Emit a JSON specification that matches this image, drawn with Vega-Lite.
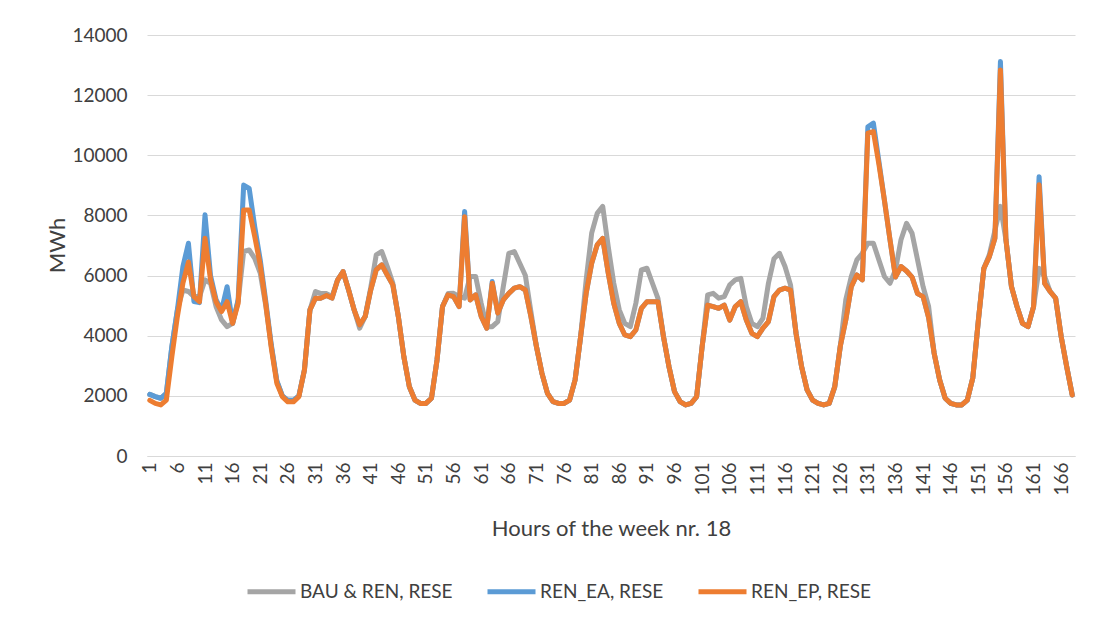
{
  "$schema": "https://vega.github.io/schema/vega-lite/v6.json",
  "width": 928,
  "height": 421,
  "autosize": "none",
  "padding": {"left": 147, "top": 35, "right": 18, "bottom": 163},
  "background": "white",
  "config": {"font": "Lato", "view": {"stroke": null}},
  "data": {"values": [
    {"h":1,"BAU & REN, RESE":2050,"REN_EA, RESE":2050,"REN_EP, RESE":1850},
    {"h":2,"BAU & REN, RESE":1975,"REN_EA, RESE":1975,"REN_EP, RESE":1750},
    {"h":3,"BAU & REN, RESE":1920,"REN_EA, RESE":1920,"REN_EP, RESE":1700},
    {"h":4,"BAU & REN, RESE":2085,"REN_EA, RESE":2085,"REN_EP, RESE":1860},
    {"h":5,"BAU & REN, RESE":3640,"REN_EA, RESE":3640,"REN_EP, RESE":3300},
    {"h":6,"BAU & REN, RESE":4860,"REN_EA, RESE":4860,"REN_EP, RESE":4640},
    {"h":7,"BAU & REN, RESE":5520,"REN_EA, RESE":6300,"REN_EP, RESE":5745},
    {"h":8,"BAU & REN, RESE":5470,"REN_EA, RESE":7075,"REN_EP, RESE":6450},
    {"h":9,"BAU & REN, RESE":5300,"REN_EA, RESE":5135,"REN_EP, RESE":5300},
    {"h":10,"BAU & REN, RESE":5300,"REN_EA, RESE":5100,"REN_EP, RESE":5130},
    {"h":11,"BAU & REN, RESE":5855,"REN_EA, RESE":8020,"REN_EP, RESE":7240},
    {"h":12,"BAU & REN, RESE":5745,"REN_EA, RESE":6000,"REN_EP, RESE":5860},
    {"h":13,"BAU & REN, RESE":4970,"REN_EA, RESE":5200,"REN_EP, RESE":5130},
    {"h":14,"BAU & REN, RESE":4525,"REN_EA, RESE":4850,"REN_EP, RESE":4800},
    {"h":15,"BAU & REN, RESE":4300,"REN_EA, RESE":5630,"REN_EP, RESE":5130},
    {"h":16,"BAU & REN, RESE":4410,"REN_EA, RESE":4410,"REN_EP, RESE":4410},
    {"h":17,"BAU & REN, RESE":5150,"REN_EA, RESE":5200,"REN_EP, RESE":5080},
    {"h":18,"BAU & REN, RESE":6800,"REN_EA, RESE":9010,"REN_EP, RESE":8180},
    {"h":19,"BAU & REN, RESE":6850,"REN_EA, RESE":8900,"REN_EP, RESE":8180},
    {"h":20,"BAU & REN, RESE":6575,"REN_EA, RESE":7630,"REN_EP, RESE":7300},
    {"h":21,"BAU & REN, RESE":6080,"REN_EA, RESE":6520,"REN_EP, RESE":6350},
    {"h":22,"BAU & REN, RESE":5000,"REN_EA, RESE":5150,"REN_EP, RESE":5050},
    {"h":23,"BAU & REN, RESE":3650,"REN_EA, RESE":3700,"REN_EP, RESE":3600},
    {"h":24,"BAU & REN, RESE":2500,"REN_EA, RESE":2500,"REN_EP, RESE":2420},
    {"h":25,"BAU & REN, RESE":2000,"REN_EA, RESE":2000,"REN_EP, RESE":1975},
    {"h":26,"BAU & REN, RESE":1850,"REN_EA, RESE":1850,"REN_EP, RESE":1800},
    {"h":27,"BAU & REN, RESE":1850,"REN_EA, RESE":1850,"REN_EP, RESE":1800},
    {"h":28,"BAU & REN, RESE":2000,"REN_EA, RESE":2000,"REN_EP, RESE":1975},
    {"h":29,"BAU & REN, RESE":2860,"REN_EA, RESE":2860,"REN_EP, RESE":2860},
    {"h":30,"BAU & REN, RESE":4860,"REN_EA, RESE":4860,"REN_EP, RESE":4860},
    {"h":31,"BAU & REN, RESE":5470,"REN_EA, RESE":5250,"REN_EP, RESE":5250},
    {"h":32,"BAU & REN, RESE":5400,"REN_EA, RESE":5250,"REN_EP, RESE":5250},
    {"h":33,"BAU & REN, RESE":5400,"REN_EA, RESE":5340,"REN_EP, RESE":5340},
    {"h":34,"BAU & REN, RESE":5300,"REN_EA, RESE":5250,"REN_EP, RESE":5250},
    {"h":35,"BAU & REN, RESE":5850,"REN_EA, RESE":5850,"REN_EP, RESE":5850},
    {"h":36,"BAU & REN, RESE":6130,"REN_EA, RESE":6130,"REN_EP, RESE":6130},
    {"h":37,"BAU & REN, RESE":5520,"REN_EA, RESE":5520,"REN_EP, RESE":5520},
    {"h":38,"BAU & REN, RESE":4860,"REN_EA, RESE":4860,"REN_EP, RESE":4860},
    {"h":39,"BAU & REN, RESE":4250,"REN_EA, RESE":4360,"REN_EP, RESE":4360},
    {"h":40,"BAU & REN, RESE":4640,"REN_EA, RESE":4640,"REN_EP, RESE":4640},
    {"h":41,"BAU & REN, RESE":5600,"REN_EA, RESE":5520,"REN_EP, RESE":5520},
    {"h":42,"BAU & REN, RESE":6690,"REN_EA, RESE":6190,"REN_EP, RESE":6190},
    {"h":43,"BAU & REN, RESE":6800,"REN_EA, RESE":6355,"REN_EP, RESE":6355},
    {"h":44,"BAU & REN, RESE":6300,"REN_EA, RESE":6020,"REN_EP, RESE":6020},
    {"h":45,"BAU & REN, RESE":5750,"REN_EA, RESE":5690,"REN_EP, RESE":5690},
    {"h":46,"BAU & REN, RESE":4640,"REN_EA, RESE":4640,"REN_EP, RESE":4640},
    {"h":47,"BAU & REN, RESE":3300,"REN_EA, RESE":3300,"REN_EP, RESE":3300},
    {"h":48,"BAU & REN, RESE":2300,"REN_EA, RESE":2300,"REN_EP, RESE":2300},
    {"h":49,"BAU & REN, RESE":1860,"REN_EA, RESE":1860,"REN_EP, RESE":1860},
    {"h":50,"BAU & REN, RESE":1750,"REN_EA, RESE":1750,"REN_EP, RESE":1750},
    {"h":51,"BAU & REN, RESE":1750,"REN_EA, RESE":1750,"REN_EP, RESE":1750},
    {"h":52,"BAU & REN, RESE":1920,"REN_EA, RESE":1920,"REN_EP, RESE":1920},
    {"h":53,"BAU & REN, RESE":3190,"REN_EA, RESE":3190,"REN_EP, RESE":3190},
    {"h":54,"BAU & REN, RESE":4970,"REN_EA, RESE":4970,"REN_EP, RESE":4970},
    {"h":55,"BAU & REN, RESE":5400,"REN_EA, RESE":5360,"REN_EP, RESE":5360},
    {"h":56,"BAU & REN, RESE":5410,"REN_EA, RESE":5300,"REN_EP, RESE":5300},
    {"h":57,"BAU & REN, RESE":5300,"REN_EA, RESE":4970,"REN_EP, RESE":4970},
    {"h":58,"BAU & REN, RESE":5250,"REN_EA, RESE":8130,"REN_EP, RESE":7960},
    {"h":59,"BAU & REN, RESE":5970,"REN_EA, RESE":5190,"REN_EP, RESE":5190},
    {"h":60,"BAU & REN, RESE":5970,"REN_EA, RESE":5360,"REN_EP, RESE":5360},
    {"h":61,"BAU & REN, RESE":5080,"REN_EA, RESE":4640,"REN_EP, RESE":4640},
    {"h":62,"BAU & REN, RESE":4300,"REN_EA, RESE":4250,"REN_EP, RESE":4250},
    {"h":63,"BAU & REN, RESE":4300,"REN_EA, RESE":5800,"REN_EP, RESE":5745},
    {"h":64,"BAU & REN, RESE":4470,"REN_EA, RESE":4750,"REN_EP, RESE":4750},
    {"h":65,"BAU & REN, RESE":5630,"REN_EA, RESE":5190,"REN_EP, RESE":5190},
    {"h":66,"BAU & REN, RESE":6740,"REN_EA, RESE":5410,"REN_EP, RESE":5410},
    {"h":67,"BAU & REN, RESE":6800,"REN_EA, RESE":5580,"REN_EP, RESE":5580},
    {"h":68,"BAU & REN, RESE":6400,"REN_EA, RESE":5630,"REN_EP, RESE":5630},
    {"h":69,"BAU & REN, RESE":6000,"REN_EA, RESE":5520,"REN_EP, RESE":5520},
    {"h":70,"BAU & REN, RESE":4800,"REN_EA, RESE":4640,"REN_EP, RESE":4640},
    {"h":71,"BAU & REN, RESE":3640,"REN_EA, RESE":3640,"REN_EP, RESE":3640},
    {"h":72,"BAU & REN, RESE":2750,"REN_EA, RESE":2750,"REN_EP, RESE":2750},
    {"h":73,"BAU & REN, RESE":2085,"REN_EA, RESE":2085,"REN_EP, RESE":2085},
    {"h":74,"BAU & REN, RESE":1810,"REN_EA, RESE":1810,"REN_EP, RESE":1810},
    {"h":75,"BAU & REN, RESE":1750,"REN_EA, RESE":1750,"REN_EP, RESE":1750},
    {"h":76,"BAU & REN, RESE":1750,"REN_EA, RESE":1750,"REN_EP, RESE":1750},
    {"h":77,"BAU & REN, RESE":1860,"REN_EA, RESE":1860,"REN_EP, RESE":1860},
    {"h":78,"BAU & REN, RESE":2530,"REN_EA, RESE":2530,"REN_EP, RESE":2530},
    {"h":79,"BAU & REN, RESE":3970,"REN_EA, RESE":3970,"REN_EP, RESE":3970},
    {"h":80,"BAU & REN, RESE":5855,"REN_EA, RESE":5410,"REN_EP, RESE":5410},
    {"h":81,"BAU & REN, RESE":7410,"REN_EA, RESE":6410,"REN_EP, RESE":6410},
    {"h":82,"BAU & REN, RESE":8070,"REN_EA, RESE":7020,"REN_EP, RESE":7020},
    {"h":83,"BAU & REN, RESE":8300,"REN_EA, RESE":7240,"REN_EP, RESE":7240},
    {"h":84,"BAU & REN, RESE":6960,"REN_EA, RESE":6080,"REN_EP, RESE":6080},
    {"h":85,"BAU & REN, RESE":5745,"REN_EA, RESE":5080,"REN_EP, RESE":5080},
    {"h":86,"BAU & REN, RESE":4860,"REN_EA, RESE":4410,"REN_EP, RESE":4410},
    {"h":87,"BAU & REN, RESE":4410,"REN_EA, RESE":4025,"REN_EP, RESE":4025},
    {"h":88,"BAU & REN, RESE":4300,"REN_EA, RESE":3970,"REN_EP, RESE":3970},
    {"h":89,"BAU & REN, RESE":5080,"REN_EA, RESE":4190,"REN_EP, RESE":4190},
    {"h":90,"BAU & REN, RESE":6190,"REN_EA, RESE":4910,"REN_EP, RESE":4910},
    {"h":91,"BAU & REN, RESE":6245,"REN_EA, RESE":5130,"REN_EP, RESE":5130},
    {"h":92,"BAU & REN, RESE":5745,"REN_EA, RESE":5130,"REN_EP, RESE":5130},
    {"h":93,"BAU & REN, RESE":5245,"REN_EA, RESE":5130,"REN_EP, RESE":5130},
    {"h":94,"BAU & REN, RESE":3970,"REN_EA, RESE":3970,"REN_EP, RESE":3970},
    {"h":95,"BAU & REN, RESE":2970,"REN_EA, RESE":2970,"REN_EP, RESE":2970},
    {"h":96,"BAU & REN, RESE":2140,"REN_EA, RESE":2140,"REN_EP, RESE":2140},
    {"h":97,"BAU & REN, RESE":1810,"REN_EA, RESE":1810,"REN_EP, RESE":1810},
    {"h":98,"BAU & REN, RESE":1700,"REN_EA, RESE":1700,"REN_EP, RESE":1700},
    {"h":99,"BAU & REN, RESE":1750,"REN_EA, RESE":1750,"REN_EP, RESE":1750},
    {"h":100,"BAU & REN, RESE":1970,"REN_EA, RESE":1970,"REN_EP, RESE":1970},
    {"h":101,"BAU & REN, RESE":3640,"REN_EA, RESE":3640,"REN_EP, RESE":3640},
    {"h":102,"BAU & REN, RESE":5360,"REN_EA, RESE":5020,"REN_EP, RESE":5020},
    {"h":103,"BAU & REN, RESE":5410,"REN_EA, RESE":4970,"REN_EP, RESE":4970},
    {"h":104,"BAU & REN, RESE":5250,"REN_EA, RESE":4910,"REN_EP, RESE":4910},
    {"h":105,"BAU & REN, RESE":5300,"REN_EA, RESE":5020,"REN_EP, RESE":5020},
    {"h":106,"BAU & REN, RESE":5690,"REN_EA, RESE":4520,"REN_EP, RESE":4520},
    {"h":107,"BAU & REN, RESE":5855,"REN_EA, RESE":4970,"REN_EP, RESE":4970},
    {"h":108,"BAU & REN, RESE":5910,"REN_EA, RESE":5130,"REN_EP, RESE":5130},
    {"h":109,"BAU & REN, RESE":4970,"REN_EA, RESE":4520,"REN_EP, RESE":4520},
    {"h":110,"BAU & REN, RESE":4410,"REN_EA, RESE":4080,"REN_EP, RESE":4080},
    {"h":111,"BAU & REN, RESE":4300,"REN_EA, RESE":3970,"REN_EP, RESE":3970},
    {"h":112,"BAU & REN, RESE":4580,"REN_EA, RESE":4250,"REN_EP, RESE":4250},
    {"h":113,"BAU & REN, RESE":5745,"REN_EA, RESE":4470,"REN_EP, RESE":4470},
    {"h":114,"BAU & REN, RESE":6560,"REN_EA, RESE":5300,"REN_EP, RESE":5300},
    {"h":115,"BAU & REN, RESE":6740,"REN_EA, RESE":5520,"REN_EP, RESE":5520},
    {"h":116,"BAU & REN, RESE":6300,"REN_EA, RESE":5580,"REN_EP, RESE":5580},
    {"h":117,"BAU & REN, RESE":5690,"REN_EA, RESE":5520,"REN_EP, RESE":5520},
    {"h":118,"BAU & REN, RESE":4080,"REN_EA, RESE":4080,"REN_EP, RESE":4080},
    {"h":119,"BAU & REN, RESE":2970,"REN_EA, RESE":2970,"REN_EP, RESE":2970},
    {"h":120,"BAU & REN, RESE":2200,"REN_EA, RESE":2200,"REN_EP, RESE":2200},
    {"h":121,"BAU & REN, RESE":1860,"REN_EA, RESE":1860,"REN_EP, RESE":1860},
    {"h":122,"BAU & REN, RESE":1750,"REN_EA, RESE":1750,"REN_EP, RESE":1750},
    {"h":123,"BAU & REN, RESE":1700,"REN_EA, RESE":1700,"REN_EP, RESE":1700},
    {"h":124,"BAU & REN, RESE":1750,"REN_EA, RESE":1750,"REN_EP, RESE":1750},
    {"h":125,"BAU & REN, RESE":2300,"REN_EA, RESE":2300,"REN_EP, RESE":2300},
    {"h":126,"BAU & REN, RESE":3640,"REN_EA, RESE":3640,"REN_EP, RESE":3640},
    {"h":127,"BAU & REN, RESE":5190,"REN_EA, RESE":4520,"REN_EP, RESE":4520},
    {"h":128,"BAU & REN, RESE":5970,"REN_EA, RESE":5630,"REN_EP, RESE":5630},
    {"h":129,"BAU & REN, RESE":6520,"REN_EA, RESE":6020,"REN_EP, RESE":6020},
    {"h":130,"BAU & REN, RESE":6740,"REN_EA, RESE":5855,"REN_EP, RESE":5855},
    {"h":131,"BAU & REN, RESE":7075,"REN_EA, RESE":10950,"REN_EP, RESE":10735},
    {"h":132,"BAU & REN, RESE":7075,"REN_EA, RESE":11070,"REN_EP, RESE":10790},
    {"h":133,"BAU & REN, RESE":6520,"REN_EA, RESE":9800,"REN_EP, RESE":9700},
    {"h":134,"BAU & REN, RESE":5970,"REN_EA, RESE":8500,"REN_EP, RESE":8500},
    {"h":135,"BAU & REN, RESE":5745,"REN_EA, RESE":7200,"REN_EP, RESE":7200},
    {"h":136,"BAU & REN, RESE":6190,"REN_EA, RESE":5950,"REN_EP, RESE":5950},
    {"h":137,"BAU & REN, RESE":7190,"REN_EA, RESE":6300,"REN_EP, RESE":6300},
    {"h":138,"BAU & REN, RESE":7740,"REN_EA, RESE":6150,"REN_EP, RESE":6150},
    {"h":139,"BAU & REN, RESE":7410,"REN_EA, RESE":5950,"REN_EP, RESE":5950},
    {"h":140,"BAU & REN, RESE":6520,"REN_EA, RESE":5400,"REN_EP, RESE":5400},
    {"h":141,"BAU & REN, RESE":5630,"REN_EA, RESE":5300,"REN_EP, RESE":5300},
    {"h":142,"BAU & REN, RESE":4970,"REN_EA, RESE":4600,"REN_EP, RESE":4600},
    {"h":143,"BAU & REN, RESE":3420,"REN_EA, RESE":3420,"REN_EP, RESE":3420},
    {"h":144,"BAU & REN, RESE":2530,"REN_EA, RESE":2530,"REN_EP, RESE":2530},
    {"h":145,"BAU & REN, RESE":1920,"REN_EA, RESE":1920,"REN_EP, RESE":1920},
    {"h":146,"BAU & REN, RESE":1750,"REN_EA, RESE":1750,"REN_EP, RESE":1750},
    {"h":147,"BAU & REN, RESE":1700,"REN_EA, RESE":1700,"REN_EP, RESE":1700},
    {"h":148,"BAU & REN, RESE":1700,"REN_EA, RESE":1700,"REN_EP, RESE":1700},
    {"h":149,"BAU & REN, RESE":1860,"REN_EA, RESE":1860,"REN_EP, RESE":1860},
    {"h":150,"BAU & REN, RESE":2600,"REN_EA, RESE":2600,"REN_EP, RESE":2600},
    {"h":151,"BAU & REN, RESE":4500,"REN_EA, RESE":4500,"REN_EP, RESE":4500},
    {"h":152,"BAU & REN, RESE":6240,"REN_EA, RESE":6240,"REN_EP, RESE":6240},
    {"h":153,"BAU & REN, RESE":6700,"REN_EA, RESE":6630,"REN_EP, RESE":6630},
    {"h":154,"BAU & REN, RESE":7500,"REN_EA, RESE":7240,"REN_EP, RESE":7240},
    {"h":155,"BAU & REN, RESE":8300,"REN_EA, RESE":13120,"REN_EP, RESE":12840},
    {"h":156,"BAU & REN, RESE":7190,"REN_EA, RESE":7190,"REN_EP, RESE":7190},
    {"h":157,"BAU & REN, RESE":5630,"REN_EA, RESE":5630,"REN_EP, RESE":5630},
    {"h":158,"BAU & REN, RESE":4970,"REN_EA, RESE":4970,"REN_EP, RESE":4970},
    {"h":159,"BAU & REN, RESE":4410,"REN_EA, RESE":4410,"REN_EP, RESE":4410},
    {"h":160,"BAU & REN, RESE":4300,"REN_EA, RESE":4300,"REN_EP, RESE":4300},
    {"h":161,"BAU & REN, RESE":4970,"REN_EA, RESE":4970,"REN_EP, RESE":4970},
    {"h":162,"BAU & REN, RESE":6240,"REN_EA, RESE":9290,"REN_EP, RESE":9020},
    {"h":163,"BAU & REN, RESE":5970,"REN_EA, RESE":5745,"REN_EP, RESE":5745},
    {"h":164,"BAU & REN, RESE":5470,"REN_EA, RESE":5470,"REN_EP, RESE":5470},
    {"h":165,"BAU & REN, RESE":5245,"REN_EA, RESE":5245,"REN_EP, RESE":5245},
    {"h":166,"BAU & REN, RESE":3970,"REN_EA, RESE":3970,"REN_EP, RESE":3970},
    {"h":167,"BAU & REN, RESE":2970,"REN_EA, RESE":2970,"REN_EP, RESE":2970},
    {"h":168,"BAU & REN, RESE":2030,"REN_EA, RESE":2030,"REN_EP, RESE":2030}
  ]},
  "transform": [{"fold": ["BAU & REN, RESE", "REN_EA, RESE", "REN_EP, RESE"], "as": ["series", "MWh"]}],
  "mark": {"type": "line", "strokeWidth": 5, "strokeJoin": "round", "strokeCap": "round"},
  "encoding": {
    "x": {
      "field": "h", "type": "quantitative",
      "scale": {"domain": [0.5, 168.5], "nice": false, "zero": false},
      "axis": {
        "values": [1,6,11,16,21,26,31,36,41,46,51,56,61,66,71,76,81,86,91,96,101,106,111,116,121,126,131,136,141,146,151,156,161,166],
        "labelAngle": -90, "grid": false, "ticks": false, "tickSize": 0, "labelPadding": 6,
        "domainColor": "#D9D9D9", "domainWidth": 1,
        "labelFontSize": 19, "labelColor": "#404040", "labelFlush": false, "labelOverlap": false,
        "title": "Hours of the week nr. 18", "titleFontSize": 22, "titleFontWeight": "normal", "titleColor": "#404040",
        "titleX": 464, "titleY": 72, "titleAlign": "center", "titleBaseline": "middle"
      }
    },
    "y": {
      "field": "MWh", "type": "quantitative",
      "scale": {"domain": [0, 14000], "nice": false},
      "axis": {
        "values": [0,2000,4000,6000,8000,10000,12000,14000],
        "grid": true, "gridColor": "#D9D9D9", "gridWidth": 1, "domain": false, "ticks": false, "tickSize": 0,
        "labelPadding": 20, "labelFontSize": 19, "labelColor": "#404040", "format": "d",
        "title": "MWh", "titleFontSize": 22, "titleFontWeight": "normal", "titleColor": "#404040",
        "titleX": -90, "titleY": 210, "titleAngle": -90, "titleAlign": "center", "titleBaseline": "middle"
      }
    },
    "color": {
      "field": "series", "type": "nominal",
      "scale": {"domain": ["BAU & REN, RESE", "REN_EA, RESE", "REN_EP, RESE"], "range": ["#A5A5A5", "#5B9BD5", "#ED7D31"]},
      "legend": {
        "orient": "none", "legendX": 98, "legendY": 530, "direction": "horizontal", "title": null,
        "symbolType": "stroke", "symbolSize": 2304, "symbolStrokeWidth": 5,
        "labelFontSize": 19, "labelColor": "#404040", "labelOffset": 2, "columnPadding": 24, "labelLimit": 0
      }
    }
  }
}
